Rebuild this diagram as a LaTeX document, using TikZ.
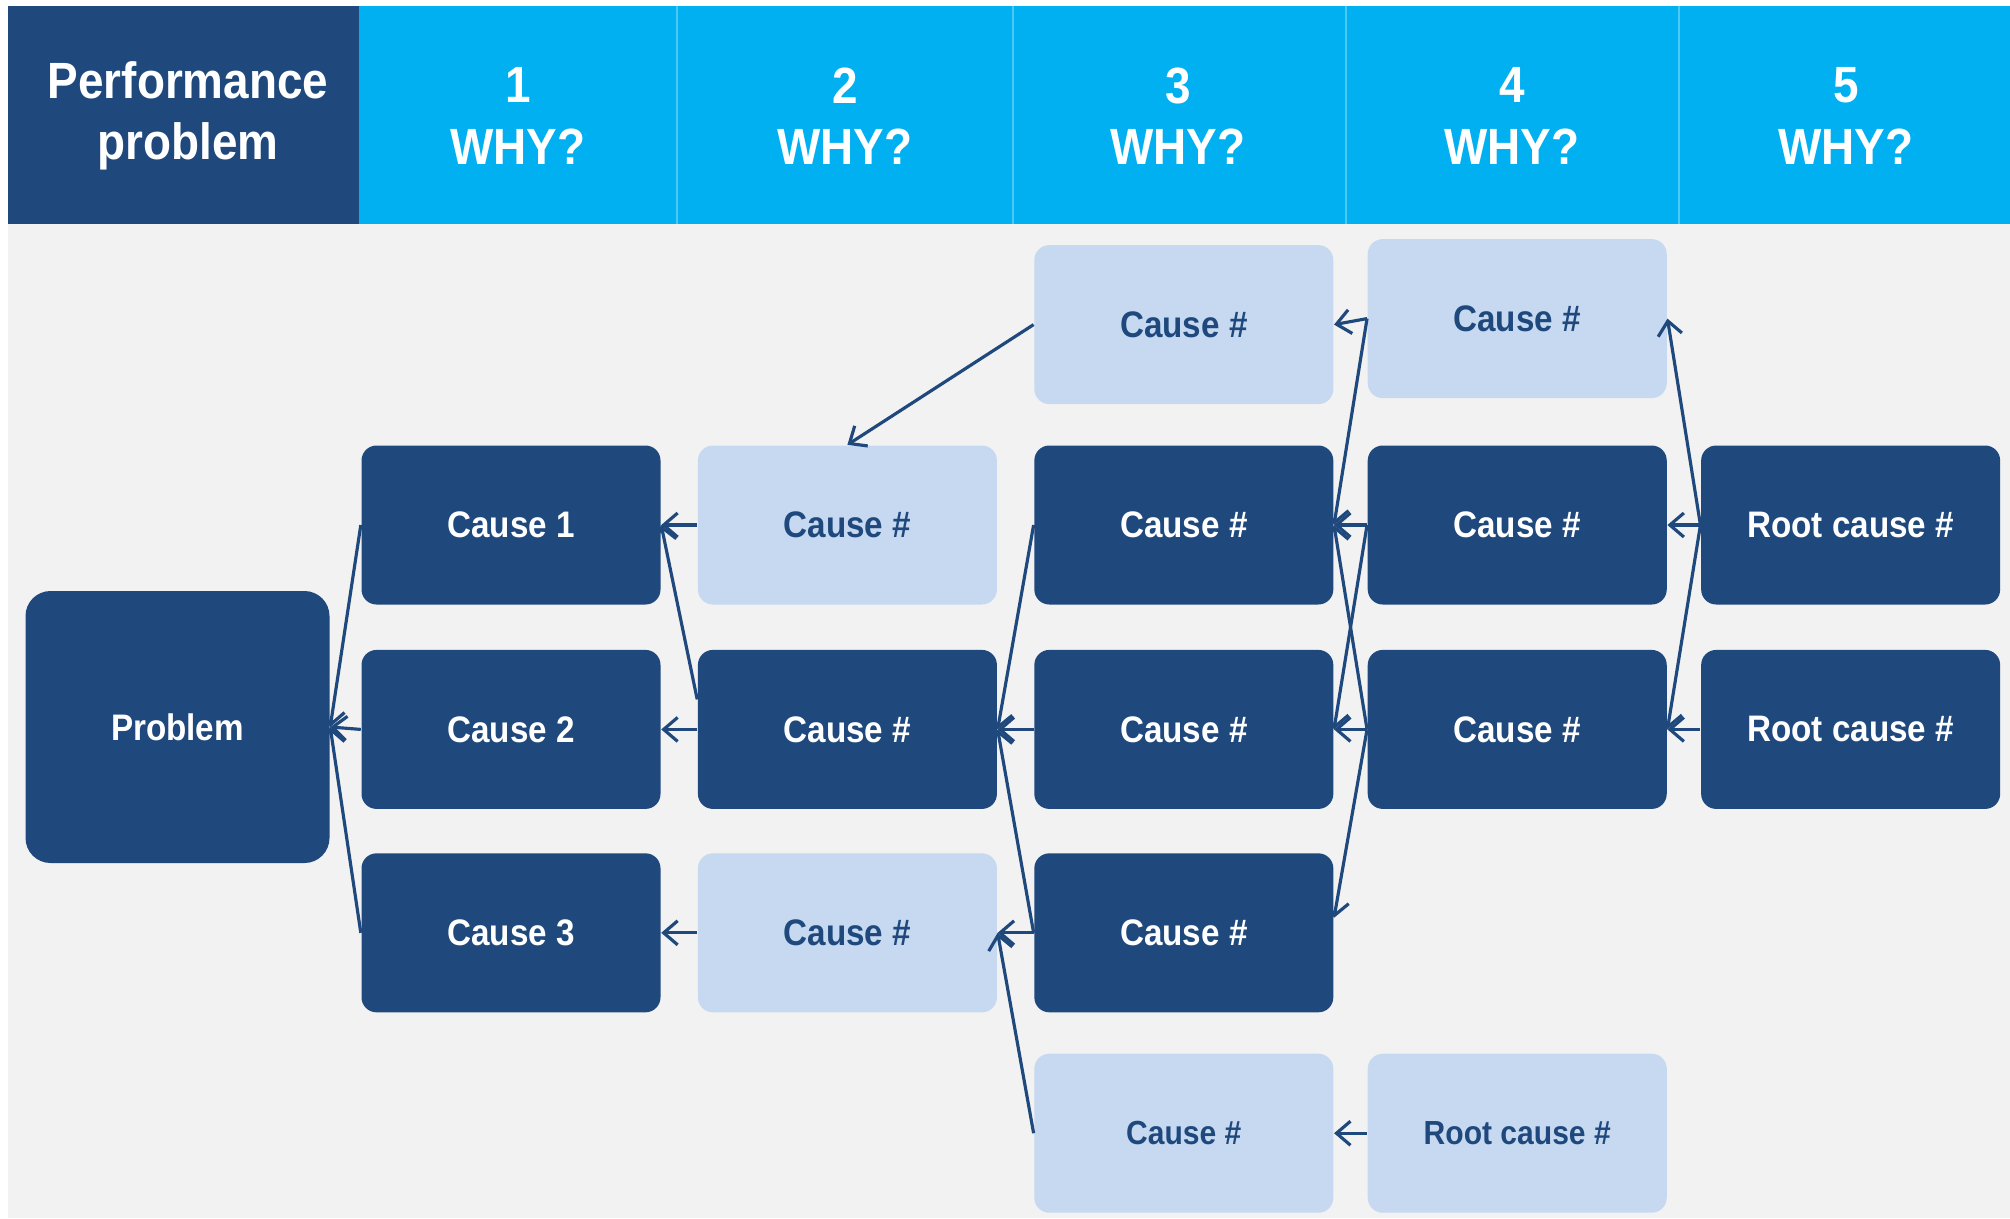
\documentclass[tikz,border=0pt]{standalone}
\usepackage{fontspec}
\setmainfont{Liberation Sans}[FakeStretch=0.9]
\usepackage{xcolor}
\usepackage{tikz}
\usetikzlibrary{arrows.meta,positioning}

\begin{document}
\begin{tikzpicture}[
  why/.style={rounded corners=1.5mm, minimum width=2.99cm, minimum height=1.59cm,
    inner sep=0pt, align=center, font=\fontsize{10.5}{12}\selectfont\bfseries},
  dark/.style={why, fill=fivenavy, text=white},
  light/.style={why, fill=fivepale, text=fivenavy},
  small/.style={font=\fontsize{9.5}{11}\selectfont\bfseries},
  head/.style={text=white, align=center, font=\fontsize{14.5}{17.5}\selectfont\bfseries},
  flow/.style={-{Straight Barb[length=1.4mm, width=2.4mm]}, line width=.9pt, draw=fivenavy}
]
\definecolor{fivenavy}{HTML}{1F497D}
\definecolor{fivepale}{HTML}{C6D9F1}
\definecolor{fivecyan}{HTML}{00B0F0}
\definecolor{fivegray}{HTML}{F2F2F2}

\useasboundingbox (0,0) rectangle (20.1,-12.18);

% Background and header band
\fill[fivegray] (0.08,-2.24) rectangle (20.1,-12.18);
\fill[fivenavy] (0.08,-0.06) rectangle (3.59,-2.24);
\fill[fivecyan] (3.59,-0.06) rectangle (20.1,-2.24);
\draw[fivecyan!70!white, line width=.4pt] (6.77,-0.06) -- (6.77,-2.24);
\draw[fivecyan!70!white, line width=.4pt] (10.13,-0.06) -- (10.13,-2.24);
\draw[fivecyan!70!white, line width=.4pt] (13.46,-0.06) -- (13.46,-2.24);
\draw[fivecyan!70!white, line width=.4pt] (16.79,-0.06) -- (16.79,-2.24);

\node[head] (hd0) at (1.88,-1.16) {Performance\\problem};
\node[head] (hd1) at (5.18,-1.16) {1\\WHY?};
\node[head] (hd2) at (8.45,-1.16) {2\\WHY?};
\node[head] (hd3) at (11.78,-1.16) {3\\WHY?};
\node[head] (hd4) at (15.12,-1.16) {4\\WHY?};
\node[head] (hd5) at (18.46,-1.16) {5\\WHY?};

% Problem
\node[dark, rounded corners=2.5mm, minimum width=3.04cm, minimum height=2.72cm]
  (prob) at (1.775,-7.27) {Problem};

% Why 1
\node[dark] (why1a) at (5.11,-5.25) {Cause 1};
\node[dark, below=4.4mm of why1a] (why1b) {Cause 2};
\node[dark, below=4.3mm of why1b] (why1c) {Cause 3};

% Why 2
\node[light, right=3.6mm of why1a] (why2a) {Cause \#};
\node[dark, right=3.6mm of why1b] (why2b) {Cause \#};
\node[light, right=3.6mm of why1c] (why2c) {Cause \#};

% Why 3
\node[dark, right=3.6mm of why2a] (why3a) {Cause \#};
\node[light, above=4mm of why3a] (why3top) {Cause \#};
\node[dark, right=3.6mm of why2b] (why3b) {Cause \#};
\node[dark, right=3.6mm of why2c] (why3c) {Cause \#};
\node[light, small, below=4mm of why3c] (why3d) {Cause \#};

% Why 4
\node[light, right=3.3mm of why3top, yshift=.6mm] (why4top) {Cause \#};
\node[dark, right=3.3mm of why3a] (why4a) {Cause \#};
\node[dark, right=3.3mm of why3b] (why4b) {Cause \#};
\node[light, small, right=3.3mm of why3d] (why4d) {Root cause \#};

% Why 5
\node[dark, right=3.3mm of why4a] (why5a) {Root cause \#};
\node[dark, right=3.3mm of why4b] (why5b) {Root cause \#};

% Cause links, pointing back to the effect
\draw[flow] (why1a.west) -- (prob.east);
\draw[flow] (why1b.west) -- (prob.east);
\draw[flow] (why1c.west) -- (prob.east);

\draw[flow] (why2a.west) -- (why1a.east);
\draw[flow] ([yshift=3mm]why2b.west) -- (why1a.east);
\draw[flow] (why2b.west) -- (why1b.east);
\draw[flow] (why2c.west) -- (why1c.east);

\draw[flow] (why3top.west) -- (why2a.north);
\draw[flow] (why3a.west) -- (why2b.east);
\draw[flow] (why3b.west) -- (why2b.east);
\draw[flow] (why3c.west) -- (why2b.east);
\draw[flow] (why3c.west) -- (why2c.east);
\draw[flow] (why3d.west) -- (why2c.east);

\draw[flow] (why4top.west) -- (why3top.east);
\draw[flow] (why4top.west) -- (why3a.east);
\draw[flow] (why4a.west) -- (why3a.east);
\draw[flow] (why4a.west) -- (why3b.east);
\draw[flow] (why4b.west) -- (why3a.east);
\draw[flow] (why4b.west) -- (why3b.east);
\draw[flow] (why4b.west) -- ([yshift=1.5mm]why3c.east);
\draw[flow] (why4d.west) -- (why3d.east);

\draw[flow] (why5a.west) -- (why4top.east);
\draw[flow] (why5a.west) -- (why4a.east);
\draw[flow] (why5a.west) -- (why4b.east);
\draw[flow] (why5b.west) -- (why4b.east);
\end{tikzpicture}
\end{document}
